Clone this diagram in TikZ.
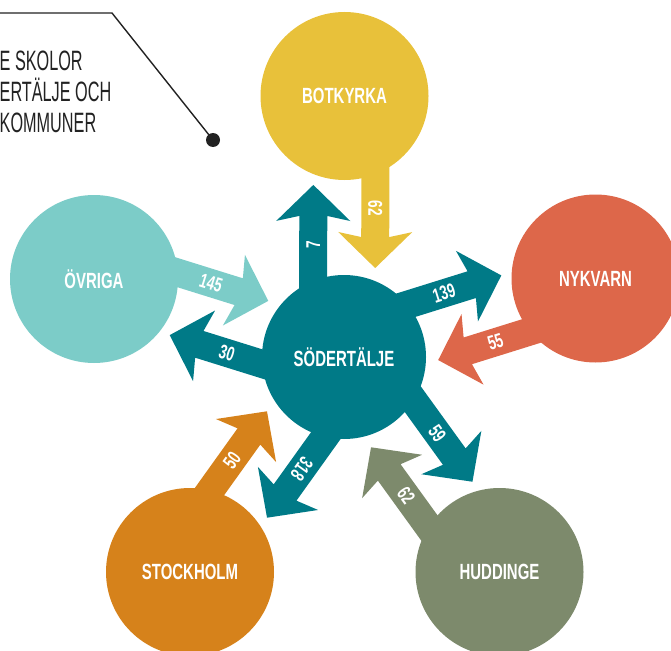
\documentclass[tikz,border=0pt]{standalone}
\usepackage{fontspec}
\newfontfamily\cond[FakeStretch=0.68]{Liberation Sans}
\newfontfamily\condreg[FakeStretch=0.58]{Liberation Sans}
\usetikzlibrary{calc}
\definecolor{tealc}{HTML}{007A87}
\definecolor{yellowc}{HTML}{E8C13A}
\definecolor{redc}{HTML}{DD674A}
\definecolor{lightc}{HTML}{7CCCC8}
\definecolor{orangec}{HTML}{D6821B}
\definecolor{olivec}{HTML}{7D8A6C}
\definecolor{inkc}{HTML}{222222}
\tikzset{
  city/.style={circle, minimum size=168pt, inner sep=0pt, text=white,
    font=\cond\bfseries\fontsize{22}{26}\selectfont},
  num/.style={text=white, inner sep=0pt,
    font=\cond\bfseries\fontsize{20}{24}\selectfont},
  note/.style={anchor=base west, inner sep=0pt, text=inkc,
    font=\condreg\fontsize{28}{31}\selectfont},
}
% #1 colour, #2 from, #3 to, #4 label, #5 extra text rotation, #6 label name
\newcommand\fatarrow[6]{%
  \coordinate (aS) at ($(#2)!31pt!90:(#3)$);
  \coordinate (aE) at ($(#3)!31pt!-90:(#2)$);
  \coordinate (aP) at ($(aE)!89pt!(aS)$);
  \coordinate (aB) at ($(aP)!36pt!(aS)$);
  \coordinate (aJ) at ($(aP)!31pt!(aS)$);
  \fill[#1] ($(aS)!14pt!90:(aP)$) -- ($(aJ)!14pt!90:(aP)$) -- ($(aB)!37pt!90:(aP)$)
    -- (aP) -- ($(aB)!37pt!-90:(aP)$) -- ($(aJ)!14pt!-90:(aP)$)
    -- ($(aS)!14pt!-90:(aP)$) -- cycle;
  \path let \p1=($(aP)-(aS)$), \n1={atan2(\y1,\x1)+#5} in
    node[num, rotate=\n1] (#6) at ($(aP)!60pt!(aS)$) {#4};
}
\begin{document}
\begin{tikzpicture}[x=1pt,y=-1pt]
\useasboundingbox (0,0) rectangle (671,650);
\clip (0,0) rectangle (671,650);
\coordinate (Cc) at (344,357);
\coordinate (Bc) at (344.5,96);
\coordinate (Nc) at (595.5,278.5);
\coordinate (Oc) at (94,279);
\coordinate (Sc) at (190,572);
\coordinate (Hc) at (499.5,572);
% arrows
\fatarrow{tealc}{Cc}{Bc}{7}{0}{l7}
\fatarrow{yellowc}{Bc}{Cc}{62}{0}{l62a}
\fatarrow{tealc}{Cc}{Nc}{139}{0}{l139}
\fatarrow{redc}{Nc}{Cc}{55}{180}{l55}
\fatarrow{tealc}{Cc}{Oc}{30}{180}{l30}
\fatarrow{lightc}{Oc}{Cc}{145}{0}{l145}
\fatarrow{tealc}{Cc}{Sc}{318}{0}{l318}
\fatarrow{orangec}{Sc}{Cc}{50}{0}{l50}
\fatarrow{tealc}{Cc}{Hc}{59}{0}{l59}
\fatarrow{olivec}{Hc}{Cc}{62}{180}{l62b}
% circles
\node[city, fill=tealc, minimum size=164pt] (sod) at (Cc) {SÖDERTÄLJE};
\node[city, fill=yellowc] (bot) at (Bc) {BOTKYRKA};
\node[city, fill=redc] (nyk) at (Nc) {NYKVARN};
\node[city, fill=lightc] (ovr) at (Oc) {ÖVRIGA};
\node[city, fill=orangec] (sto) at (Sc) {STOCKHOLM};
\node[city, fill=olivec] (hud) at (Hc) {HUDDINGE};
% note
\node[note] (t1) at (-0.5,70.5) {E SKOLOR};
\node[note] (t2) at (-0.5,101.5) {ERTÄLJE OCH};
\node[note] (t3) at (-0.5,132.5) {KOMMUNER};
\node[circle, fill=inkc, minimum size=14pt, inner sep=0pt] (dot) at (213,140) {};
\coordinate (lstart) at (-2,13);
\coordinate (lbend) at (112,13);
\draw[inkc, line width=1.4pt] (lstart) -- (lbend) -- (dot.center);
\end{tikzpicture}
\end{document}
